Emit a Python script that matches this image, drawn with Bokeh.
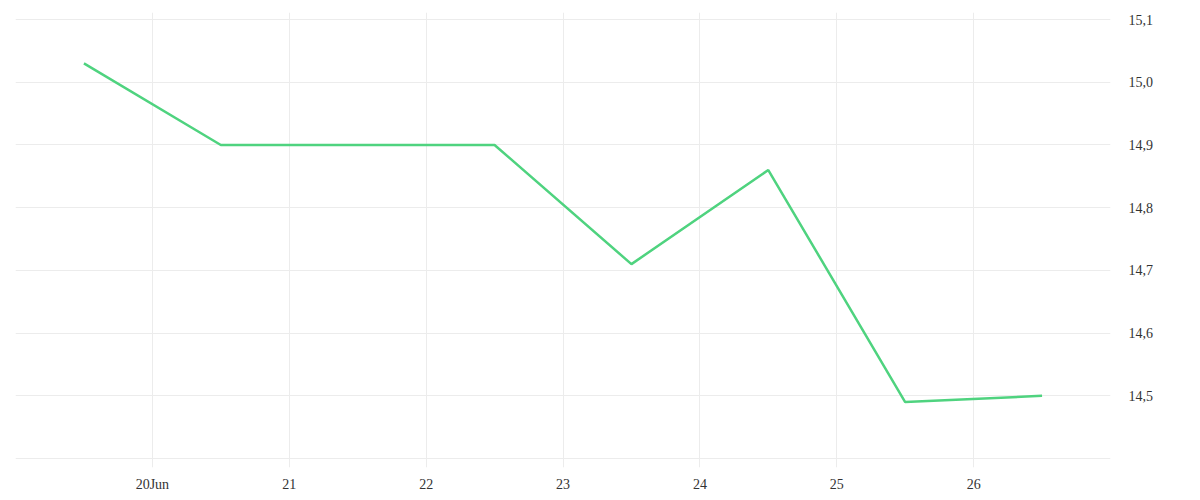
from datetime import datetime
from bokeh.plotting import figure
from bokeh.models import FixedTicker, Range1d
from bokeh.embed import file_html
from bokeh.resources import INLINE

dates = ["2023-06-19 12:00", "2023-06-20 12:00", "2023-06-21 12:00", "2023-06-22 12:00",
         "2023-06-23 12:00", "2023-06-24 12:00", "2023-06-25 12:00", "2023-06-26 12:00"]
values = [15.03, 14.90, 14.90, 14.90, 14.71, 14.86, 14.49, 14.50]
x_tick_days = ["2023-06-19", "2023-06-20", "2023-06-21", "2023-06-22", "2023-06-23",
               "2023-06-24", "2023-06-25", "2023-06-26", "2023-06-27"]
x_tick_labels = ["", "20Jun", "21", "22", "23", "24", "25", "26", ""]
y_ticks = [14.4, 14.5, 14.6, 14.7, 14.8, 14.9, 15.0, 15.1]
y_tick_labels = ["", "14,5", "14,6", "14,7", "14,8", "14,9", "15,0", "15,1"]

def ms(s):
    fmt = "%Y-%m-%d %H:%M" if " " in s else "%Y-%m-%d"
    return (datetime.strptime(s, fmt) - datetime(1970, 1, 1)).total_seconds() * 1000

xs = [ms(d) for d in dates]
xt = [ms(d) for d in x_tick_days]

p = figure(width=1192, height=495, output_backend="svg", toolbar_location=None,
           x_axis_type="datetime", y_axis_location="right",
           x_range=Range1d(xt[0], xt[-1]), y_range=Range1d(14.3857, 15.1112),
           min_border_left=15, min_border_right=82, min_border_top=12, min_border_bottom=28)
p.outline_line_color = None
p.background_fill_color = "white"
p.border_fill_color = "white"

p.line(xs, values, line_color="#4fd37f", line_width=2.5)

p.xaxis.ticker = FixedTicker(ticks=xt)
p.xaxis.major_label_overrides = {t: l for t, l in zip(xt, x_tick_labels)}
p.yaxis.ticker = FixedTicker(ticks=y_ticks)
p.yaxis.major_label_overrides = {t: l for t, l in zip(y_ticks, y_tick_labels)}

for ax in (p.xaxis, p.yaxis):
    ax.axis_line_color = None
    ax.major_tick_line_color = None
    ax.minor_tick_line_color = None
    ax.major_tick_out = 0
    ax.major_tick_in = 0
    ax.minor_tick_out = 0
    ax.major_label_text_font = "Liberation Serif"
    ax.major_label_text_font_size = "14px"
    ax.major_label_text_color = "#333333"
p.xaxis.major_label_standoff = 9
p.yaxis.major_label_standoff = 18

p.grid.grid_line_color = "#ececec"
p.grid.grid_line_width = 1

open("out.html", "w").write(file_html(p, INLINE))
